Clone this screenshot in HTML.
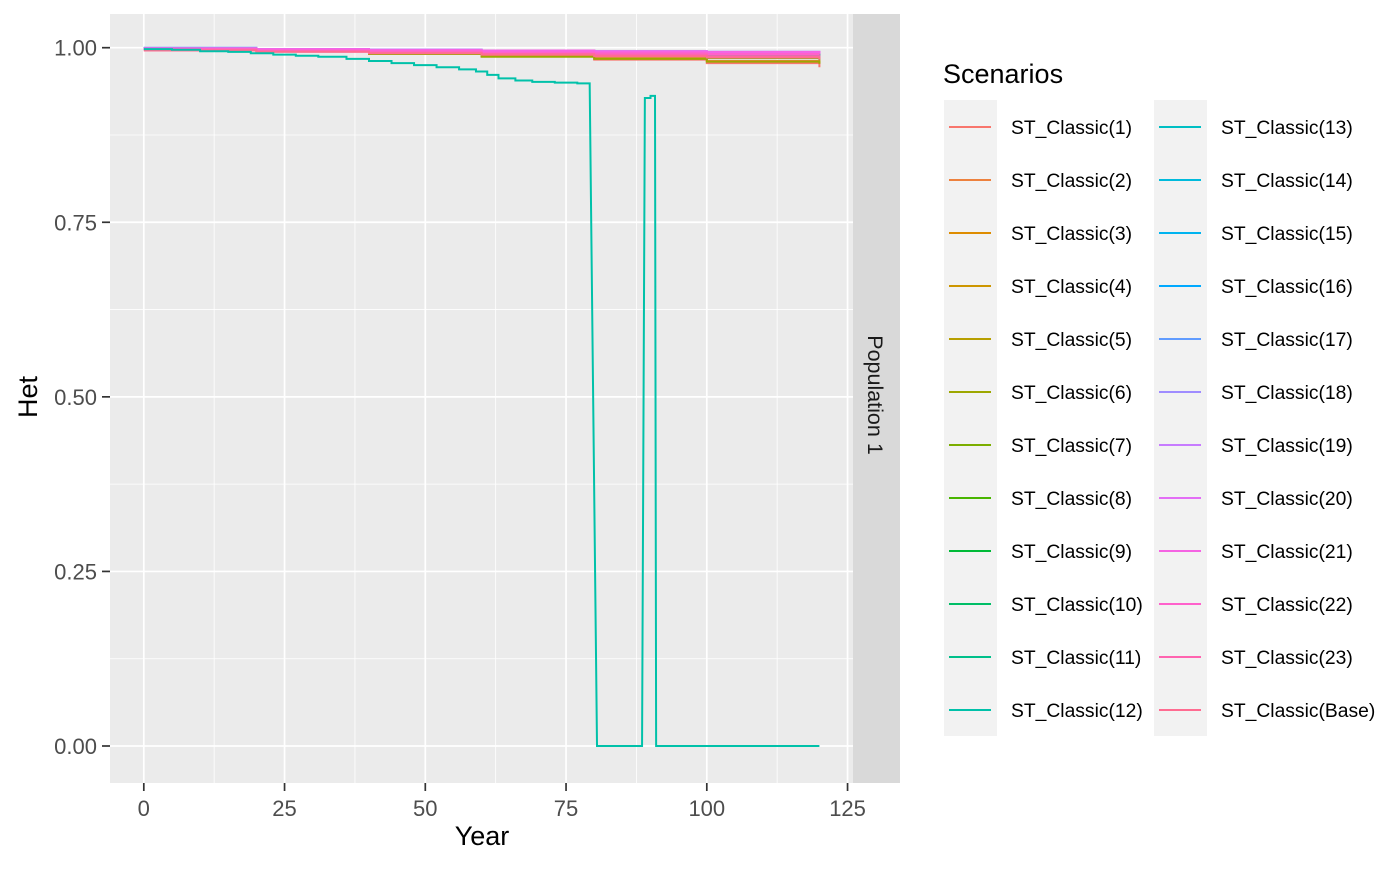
<!DOCTYPE html>
<html><head><meta charset="utf-8"><style>
body{margin:0;background:#fff;}
svg text{font-family:"Liberation Sans",Arial,sans-serif;}
</style></head><body>
<svg id="chart" width="1400" height="866" xmlns="http://www.w3.org/2000/svg">
<rect x="0" y="0" width="1400" height="866" fill="#fff"/>
<g id="panel"></g>
<g id="series"></g>
<g id="axes"></g>
<g id="legend"></g>
</svg>
<script>
// ---- data ----
const xTicks = [0, 25, 50, 75, 100, 125];
const yTicks = [0, 0.25, 0.5, 0.75, 1.0];
const yTickLabels = ["0.00", "0.25", "0.50", "0.75", "1.00"];
const seriesNames = ["ST_Classic(1)","ST_Classic(2)","ST_Classic(3)","ST_Classic(4)","ST_Classic(5)","ST_Classic(6)","ST_Classic(7)","ST_Classic(8)","ST_Classic(9)","ST_Classic(10)","ST_Classic(11)","ST_Classic(12)","ST_Classic(13)","ST_Classic(14)","ST_Classic(15)","ST_Classic(16)","ST_Classic(17)","ST_Classic(18)","ST_Classic(19)","ST_Classic(20)","ST_Classic(21)","ST_Classic(22)","ST_Classic(23)","ST_Classic(Base)"];
const commonYears = [0, 20, 40, 60, 80, 100, 120];
const seriesValues = [
 [0.999,0.996,0.992,0.988,0.983,0.978,0.972],
 [0.998,0.995,0.991,0.988,0.985,0.981,0.977],
 [0.999,0.997,0.994,0.991,0.989,0.986,0.984],
 [0.998,0.996,0.993,0.990,0.988,0.986,0.985],
 [0.999,0.997,0.995,0.993,0.991,0.989,0.987],
 [0.998,0.995,0.991,0.987,0.984,0.980,0.977],
 [0.999,0.997,0.994,0.991,0.988,0.985,0.982],
 [0.999,0.998,0.996,0.994,0.992,0.990,0.988],
 [0.999,0.997,0.995,0.993,0.991,0.990,0.989],
 [0.998,0.996,0.994,0.992,0.990,0.988,0.986],
 [0.999,0.997,0.995,0.993,0.991,0.990,0.988],
 [0,0,0,0,0,0,0],
 [0.999,0.998,0.996,0.994,0.992,0.991,0.990],
 [0.999,0.997,0.996,0.994,0.993,0.992,0.991],
 [0.999,0.998,0.997,0.995,0.994,0.993,0.992],
 [0.999,0.998,0.996,0.995,0.994,0.993,0.992],
 [1.000,0.998,0.997,0.996,0.995,0.994,0.993],
 [0.999,0.998,0.997,0.996,0.995,0.994,0.993],
 [0.999,0.998,0.996,0.995,0.994,0.993,0.992],
 [0.999,0.997,0.996,0.995,0.994,0.993,0.992],
 [0.999,0.998,0.997,0.996,0.995,0.994,0.993],
 [0.998,0.996,0.995,0.993,0.992,0.991,0.990],
 [0.997,0.995,0.993,0.991,0.990,0.988,0.986],
 [0.996,0.994,0.992,0.990,0.988,0.986,0.983]
];
const s12Years = [0, 5, 10, 15, 19, 23, 27, 31, 36, 40, 44, 48, 52, 56, 59, 61, 63, 66, 69, 73, 77, 79.2, 80.5, 88.5, 89, 90, 90.8, 91, 120];
const s12Values = [0.998, 0.997, 0.995, 0.994, 0.992, 0.990, 0.9885, 0.987, 0.984, 0.981, 0.978, 0.975, 0.972, 0.969, 0.966, 0.961, 0.956, 0.953, 0.951, 0.950, 0.949, 0.946, 0, 0, 0.928, 0.931, 0.931, 0, 0];

// ---- geometry ----
const PL=110, PR=853, PT=14, PB=783;
const X0=143.8, XS=5.63;
const Y1=47.7, Y0=746;
const xs = v => X0 + v*XS;
const ys = v => Y0 - v*(Y0-Y1);
const NS = "http://www.w3.org/2000/svg";
function mk(tag, attrs, parent){const e=document.createElementNS(NS,tag);for(const k in attrs)e.setAttribute(k,attrs[k]);parent.appendChild(e);return e;}

function hcl(h){
 const L=65,C=100,hr=h*Math.PI/180;const u=C*Math.cos(hr),v=C*Math.sin(hr);
 const Xn=95.047,Yn=100,Zn=108.883;const d=Xn+15*Yn+3*Zn;const un=4*Xn/d,vn=9*Yn/d;
 const Y=Yn*Math.pow((L+16)/116,3);const up=u/(13*L)+un,vp=v/(13*L)+vn;
 const X=Y*9*up/(4*vp),Z=Y*(12-3*up-20*vp)/(4*vp);
 const x=X/100,y=Y/100,z=Z/100;
 let r=3.2404542*x-1.5371385*y-0.4985314*z,g=-0.9692660*x+1.8760108*y+0.0415560*z,b=0.0556434*x-0.2040259*y+1.0572252*z;
 const gm=c=>{c=c<=0.0031308?12.92*c:1.055*Math.pow(c,1/2.4)-0.055;return Math.round(Math.max(0,Math.min(1,c))*255);};
 return `rgb(${gm(r)},${gm(g)},${gm(b)})`;
}
const colors = seriesNames.map((n,i)=>hcl(15+15*i));

// ---- panel ----
const panel=document.getElementById('panel');
const bg=mk('rect',{x:PL,y:PT,width:PR-PL,height:PB-PT,fill:'#EBEBEB'},panel);


for(let i=0;i<xTicks.length-1;i++){const m=(xTicks[i]+xTicks[i+1])/2;const l=mk('line',{x1:xs(m),x2:xs(m),y1:PT,y2:PB,stroke:'#fff','stroke-width':0.8},panel);
 
 }
for(let i=0;i<yTicks.length-1;i++){const m=(yTicks[i]+yTicks[i+1])/2;const l=mk('line',{x1:PL,x2:PR,y1:ys(m),y2:ys(m),stroke:'#fff','stroke-width':0.8},panel);
 
 }
xTicks.forEach(t=>{const l=mk('line',{x1:xs(t),x2:xs(t),y1:PT,y2:PB,stroke:'#fff','stroke-width':1.7},panel);
 
 });
yTicks.forEach(t=>{const l=mk('line',{x1:PL,x2:PR,y1:ys(t),y2:ys(t),stroke:'#fff','stroke-width':1.7},panel);
 
 });
// strip
const strip=mk('rect',{x:PR,y:PT,width:47,height:PB-PT,fill:'#D9D9D9'},panel);


const st=mk('text',{x:0,y:0,transform:`translate(868,395) rotate(90)`,'text-anchor':'middle','font-size':21.5,fill:'#1A1A1A'},panel);
st.textContent='Population 1';



// ---- series ----
const sg=document.getElementById('series');
function stepPath(yrs,vals){let d=`M${xs(yrs[0])},${ys(vals[0])}`;for(let i=1;i<yrs.length;i++){d+=`H${xs(yrs[i])}V${ys(vals[i])}`;}return d;}
seriesNames.forEach((n,i)=>{
 if(i===11) return;
 const p=mk('path',{d:stepPath(commonYears,seriesValues[i]),fill:'none',stroke:colors[i],'stroke-width':2},sg);
 
 
});
{
 let d=`M${xs(s12Years[0])},${ys(s12Values[0])}`;
 for(let i=1;i<s12Years.length;i++){const prev=s12Values[i-1],cur=s12Values[i];
  if(Math.abs(prev-cur)>0.5){d+=`L${xs(s12Years[i])},${ys(cur)}`;}else{d+=`H${xs(s12Years[i])}V${ys(cur)}`;}}
 const p=mk('path',{d:d,fill:'none',stroke:colors[11],'stroke-width':2},sg);
 
 
}

// ---- axes ----
const ax=document.getElementById('axes');
xTicks.forEach(t=>{
 const l=mk('line',{x1:xs(t),x2:xs(t),y1:PB,y2:PB+8,stroke:'#333','stroke-width':1.7},ax);
 
 
 const tx=mk('text',{x:xs(t),y:816,'text-anchor':'middle','font-size':22,fill:'#4D4D4D'},ax);
 tx.textContent=String(t);
 
 
});
yTicks.forEach((t,i)=>{
 const l=mk('line',{x1:PL-8,x2:PL,y1:ys(t),y2:ys(t),stroke:'#333','stroke-width':1.7},ax);
 
 
 const tx=mk('text',{x:97,y:ys(t)+8,'text-anchor':'end','font-size':22,fill:'#4D4D4D'},ax);
 tx.textContent=yTickLabels[i];
 
 
});
const xt=mk('text',{x:482,y:845,'text-anchor':'middle','font-size':27,fill:'#000'},ax);
xt.textContent='Year';


const yt=mk('text',{x:0,y:0,transform:'translate(37,397) rotate(-90)','text-anchor':'middle','font-size':27,fill:'#000'},ax);
yt.textContent='Het';



// ---- legend ----
const lg=document.getElementById('legend');
const ttl=mk('text',{x:943,y:83,'font-size':27,fill:'#000'},lg);
ttl.textContent='Scenarios';


[944,1154].forEach(x=>{const r=mk('rect',{x:x,y:100,width:53,height:636,fill:'#F2F2F2'},lg);
 
 });
seriesNames.forEach((n,i)=>{
 const col=i<12?0:1,row=i%12;const kx=col?1154:944;const y=127+row*53;
 const l=mk('line',{x1:kx+5,x2:kx+47,y1:y,y2:y,stroke:colors[i],'stroke-width':2},lg);
 
 
 const t=mk('text',{x:kx+67,y:y+7,'font-size':19.3,fill:'#000'},lg);
 t.textContent=n;
 
 
});
</script>
</body></html>
